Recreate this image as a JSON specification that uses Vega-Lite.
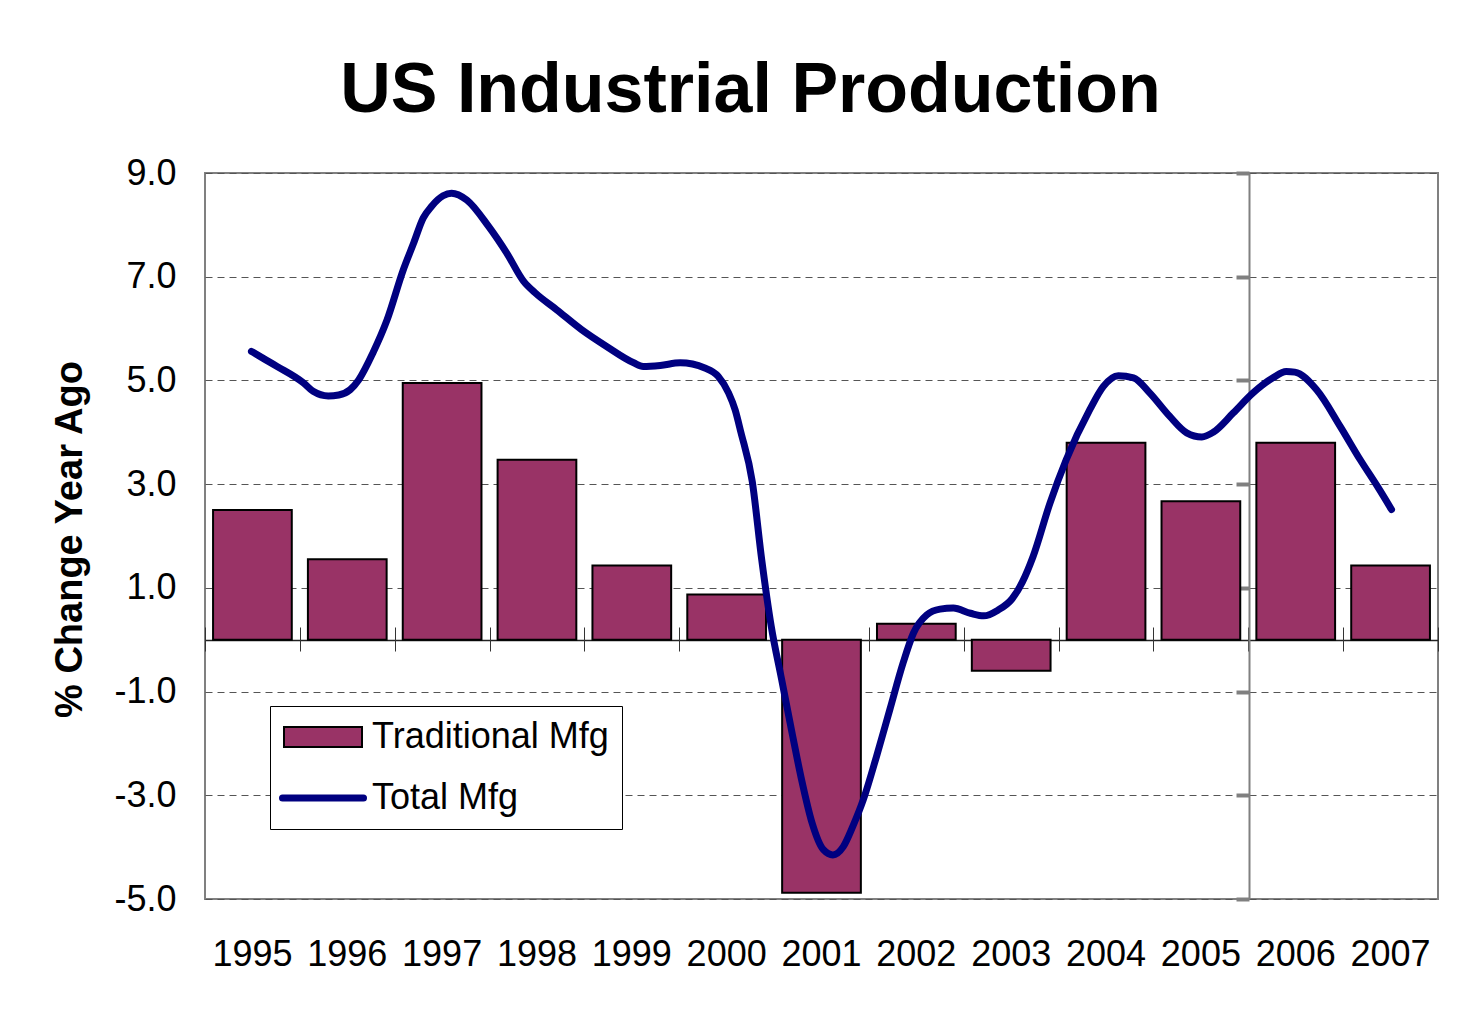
{
  "$schema": "https://vega.github.io/schema/vega-lite/v6.json",
  "width": 1233,
  "height": 726,
  "autosize": {"type": "none"},
  "padding": {"left": 205, "top": 173, "right": 38, "bottom": 112},
  "background": "white",
  "config": {
    "font": "Liberation Sans",
    "view": {"stroke": "#808080", "strokeWidth": 2}
  },
  "title": {
    "text": "US Industrial Production",
    "font": "Liberation Sans",
    "fontSize": 70,
    "fontWeight": "bold",
    "color": "black",
    "anchor": "middle",
    "frame": "group",
    "dx": -71,
    "offset": 28
  },
  "datasets": {
    "trad": [
      {"year": 1995, "value": 2.5},
      {"year": 1996, "value": 1.55},
      {"year": 1997, "value": 4.95},
      {"year": 1998, "value": 3.47},
      {"year": 1999, "value": 1.43},
      {"year": 2000, "value": 0.87},
      {"year": 2001, "value": -4.88},
      {"year": 2002, "value": 0.31},
      {"year": 2003, "value": -0.6},
      {"year": 2004, "value": 3.8},
      {"year": 2005, "value": 2.67},
      {"year": 2006, "value": 3.8},
      {"year": 2007, "value": 1.43}
    ],
    "total": [
      {"t": 1994.99, "value": 5.56},
      {"t": 1995.11, "value": 5.43},
      {"t": 1995.26, "value": 5.27},
      {"t": 1995.54, "value": 4.95},
      {"t": 1995.64, "value": 4.79},
      {"t": 1995.80, "value": 4.70},
      {"t": 1995.91, "value": 4.72},
      {"t": 1996.03, "value": 4.82},
      {"t": 1996.12, "value": 5.01},
      {"t": 1996.27, "value": 5.53},
      {"t": 1996.42, "value": 6.17},
      {"t": 1996.59, "value": 7.13},
      {"t": 1996.70, "value": 7.65},
      {"t": 1996.80, "value": 8.13},
      {"t": 1996.89, "value": 8.36},
      {"t": 1997.01, "value": 8.56},
      {"t": 1997.10, "value": 8.61},
      {"t": 1997.26, "value": 8.48},
      {"t": 1997.49, "value": 7.97},
      {"t": 1997.68, "value": 7.46},
      {"t": 1997.86, "value": 6.91},
      {"t": 1997.98, "value": 6.69},
      {"t": 1998.21, "value": 6.36},
      {"t": 1998.47, "value": 5.98},
      {"t": 1998.73, "value": 5.66},
      {"t": 1999.02, "value": 5.34},
      {"t": 1999.12, "value": 5.27},
      {"t": 1999.30, "value": 5.29},
      {"t": 1999.51, "value": 5.34},
      {"t": 1999.77, "value": 5.24},
      {"t": 1999.91, "value": 5.08},
      {"t": 2000.02, "value": 4.76},
      {"t": 2000.09, "value": 4.43},
      {"t": 2000.15, "value": 4.0},
      {"t": 2000.27, "value": 3.05},
      {"t": 2000.37, "value": 1.54},
      {"t": 2000.47, "value": 0.26},
      {"t": 2000.58, "value": -0.77},
      {"t": 2000.69, "value": -1.8},
      {"t": 2000.79, "value": -2.7},
      {"t": 2000.90, "value": -3.53},
      {"t": 2001.02, "value": -4.05},
      {"t": 2001.12, "value": -4.15},
      {"t": 2001.23, "value": -3.99},
      {"t": 2001.33, "value": -3.6},
      {"t": 2001.44, "value": -3.09},
      {"t": 2001.58, "value": -2.25},
      {"t": 2001.72, "value": -1.35},
      {"t": 2001.86, "value": -0.45},
      {"t": 2001.97, "value": 0.13},
      {"t": 2002.11, "value": 0.48},
      {"t": 2002.25, "value": 0.59},
      {"t": 2002.39, "value": 0.61},
      {"t": 2002.57, "value": 0.51},
      {"t": 2002.71, "value": 0.46},
      {"t": 2002.86, "value": 0.57},
      {"t": 2003.01, "value": 0.79},
      {"t": 2003.12, "value": 1.12},
      {"t": 2003.23, "value": 1.6},
      {"t": 2003.41, "value": 2.64},
      {"t": 2003.58, "value": 3.47},
      {"t": 2003.83, "value": 4.44},
      {"t": 2003.97, "value": 4.88},
      {"t": 2004.13, "value": 5.09},
      {"t": 2004.29, "value": 5.05},
      {"t": 2004.46, "value": 4.76},
      {"t": 2004.67, "value": 4.31},
      {"t": 2004.85, "value": 3.99},
      {"t": 2005.01, "value": 3.91},
      {"t": 2005.13, "value": 4.0},
      {"t": 2005.34, "value": 4.37},
      {"t": 2005.55, "value": 4.76},
      {"t": 2005.76, "value": 5.05},
      {"t": 2005.90, "value": 5.17},
      {"t": 2005.99, "value": 5.16},
      {"t": 2006.22, "value": 4.82},
      {"t": 2006.47, "value": 4.11},
      {"t": 2006.68, "value": 3.47},
      {"t": 2006.86, "value": 2.96},
      {"t": 2007.01, "value": 2.51}
    ]
  },
  "layer": [
    {
      "data": {"name": "trad"},
      "mark": {"type": "bar", "stroke": "black", "strokeWidth": 2},
      "encoding": {
        "x": {
          "field": "year",
          "type": "ordinal",
          "scale": {"paddingInner": 0.17, "paddingOuter": 0.085},
          "axis": {
            "title": null,
            "orient": "bottom",
            "labelAngle": 0,
            "labelFont": "Liberation Sans",
            "labelFontSize": 36,
            "labelColor": "black",
            "labelPadding": 38,
            "ticks": false,
            "domain": false,
            "grid": false
          }
        },
        "y": {
          "field": "value",
          "type": "quantitative",
          "scale": {"domain": [-5, 9], "nice": false},
          "axis": {
            "title": "% Change Year Ago",
            "titleFont": "Liberation Sans",
            "titleFontSize": 38,
            "titleFontWeight": "bold",
            "titleColor": "black",
            "titleAngle": -90,
            "titleX": -135,
            "titleY": 366,
            "titleAlign": "center",
            "titleBaseline": "middle",
            "values": [9, 7, 5, 3, 1, 0, -1, -3, -5],
            "labelExpr": "datum.value === 0 ? '' : replace(format(datum.value, '.1f'), '−', '-')",
            "labelFont": "Liberation Sans",
            "labelFontSize": 36,
            "labelColor": "black",
            "labelPadding": 29,
            "labelOverlap": false,
            "ticks": false,
            "domain": false,
            "grid": true,
            "gridColor": {"condition": {"test": "datum.value === 0", "value": "#222222"}, "value": "#555555"},
            "gridDash": {"condition": {"test": "datum.value === 0", "value": []}, "value": [7, 5]},
            "gridWidth": {"condition": {"test": "datum.value === 0", "value": 1.5}, "value": 1}
          }
        },
        "y2": {"datum": 0},
        "fill": {
          "datum": "Traditional Mfg",
          "type": "nominal",
          "scale": {"domain": ["Traditional Mfg", "Total Mfg"], "range": ["#993366", "#000080"]},
          "legend": {
            "orient": "none",
            "legendX": 65,
            "legendY": 533,
            "title": null,
            "strokeColor": "black",
            "fillColor": "white",
            "padding": 13,
            "labelFont": "Liberation Sans",
            "labelFontSize": 36,
            "labelColor": "black",
            "labelLimit": 600,
            "symbolSize": 900,
            "symbolType": "M-2.6,-0.67H2.6V0.67H-2.6Z",
            "symbolStrokeColor": "black",
            "symbolStrokeWidth": 2,
            "rowPadding": 25,
            "symbolOffset": 22,
            "labelOffset": 31,
            "encode": {
              "symbols": {
                "update": {
                  "shape": {"signal": "datum.value === 'Total Mfg' ? 'M-2.7,0H2.7' : 'M-2.6,-0.67H2.6V0.67H-2.6Z'"},
                  "stroke": {"signal": "datum.value === 'Total Mfg' ? '#000080' : 'black'"},
                  "strokeWidth": {"signal": "datum.value === 'Total Mfg' ? 7 : 2"},
                  "strokeCap": {"value": "round"},
                  "opacity": {"value": 1}
                }
              }
            }
          }
        }
      }
    },
    {
      "data": {"name": "total"},
      "mark": {"type": "line", "color": "#000080", "interpolate": "monotone", "strokeWidth": 7, "strokeCap": "round", "strokeJoin": "round"},
      "encoding": {
        "x": {
          "field": "t",
          "type": "quantitative",
          "scale": {"domain": [1994.5, 2007.5], "nice": false, "zero": false},
          "axis": {
            "orient": "top",
            "offset": -478,
            "values": [1994.5, 1995.5, 1996.5, 1997.5, 1998.5, 1999.5, 2000.5, 2001.5, 2002.5, 2003.5, 2004.5, 2005.5, 2006.5, 2007.5],
            "tickSize": 24,
            "tickColor": "#333333",
            "tickWidth": 1,
            "labels": false,
            "domain": false,
            "grid": false,
            "title": null
          }
        },
        "y": {
          "field": "value",
          "type": "quantitative",
          "scale": {"domain": [-5, 9], "nice": false},
          "axis": {
            "orient": "left",
            "offset": -1044,
            "values": [9, 7, 5, 3, 1, -1, -3, -5],
            "labels": false,
            "grid": false,
            "title": null,
            "tickSize": 13,
            "tickColor": "#808080",
            "tickWidth": 4,
            "domain": true,
            "domainColor": "#808080",
            "domainWidth": 2
          }
        }
      }
    }
  ],
  "resolve": {
    "scale": {"x": "independent"},
    "axis": {"x": "independent", "y": "independent"}
  }
}
